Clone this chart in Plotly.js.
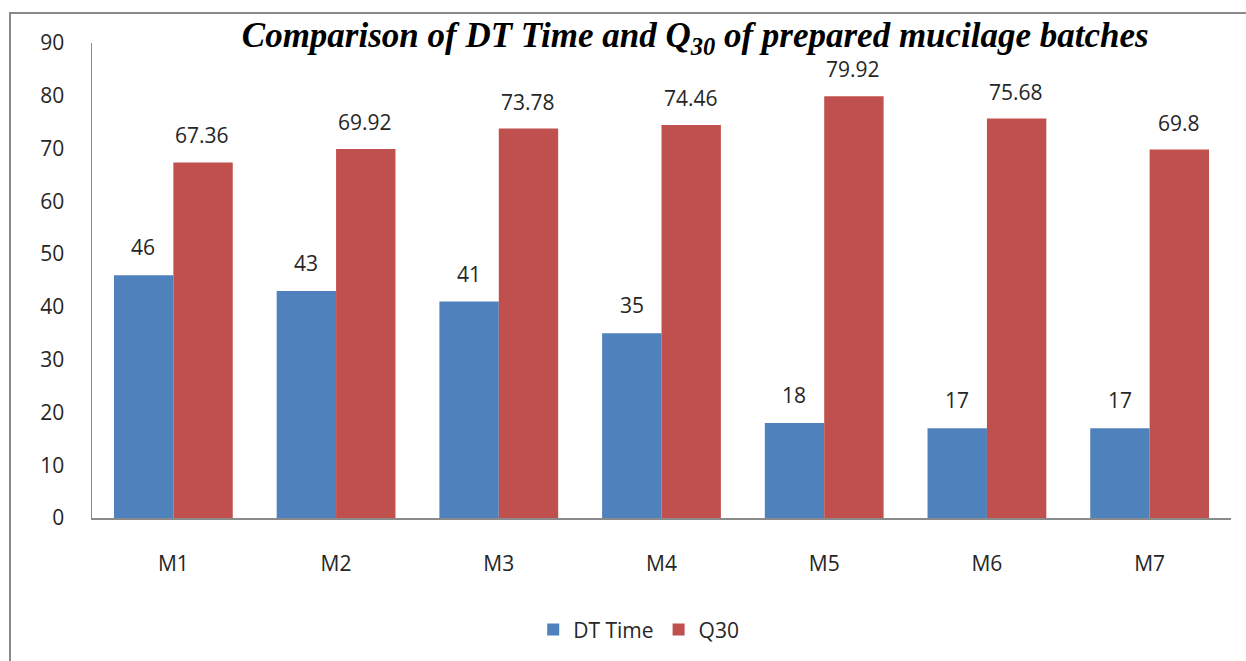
<!DOCTYPE html>
<html>
<head>
<meta charset="utf-8">
<script src="https://cdn.plot.ly/plotly-3.0.1.min.js"></script>
<style>
  html, body { margin: 0; padding: 0; background: #fff; }
  #wrap { position: relative; width: 1246px; height: 661px; overflow: hidden; }
  #chart { width: 1246px; height: 661px; }
  #frame { position: absolute; left: 9px; top: 12px; width: 1300px; height: 700px;
           border-left: 2px solid #8a8a8a; border-top: 2px solid #8a8a8a; pointer-events: none; }
</style>
</head>
<body>
<div id="wrap">
  <div id="chart"></div>
  <div id="frame"></div>
</div>
<script>
const categories = ["M1", "M2", "M3", "M4", "M5", "M6", "M7"];
const dtTime = [46, 43, 41, 35, 18, 17, 17];
const q30 = [67.36, 69.92, 73.78, 74.46, 79.92, 75.68, 69.8];
const seriesNames = ["DT Time", "Q30"];
const yTicks = [0, 10, 20, 30, 40, 50, 60, 70, 80, 90];

const textFont = { family: "Open Sans, Liberation Sans, sans-serif", size: 21, color: "#262626" };

const traces = [
  { type: "bar", name: seriesNames[0], x: categories, y: dtTime,
    marker: { color: "#4F81BD" }, hoverinfo: "x+y" },
  { type: "bar", name: seriesNames[1], x: categories, y: q30,
    marker: { color: "#C0504D" }, hoverinfo: "x+y" }
];

const annotations = [];
categories.forEach((c, i) => {
  annotations.push({ x: c, y: dtTime[i], xref: "x", yref: "y", text: String(dtTime[i]),
    showarrow: false, xshift: -30, yshift: 12, yanchor: "bottom", font: textFont });
  annotations.push({ x: c, y: q30[i], xref: "x", yref: "y", text: String(q30[i]),
    showarrow: false, xshift: 29, yshift: 11, yanchor: "bottom", font: textFont });
});

const layout = {
  width: 1246, height: 661,
  margin: { l: 92, r: 15, t: 43, b: 142 },
  paper_bgcolor: "rgba(0,0,0,0)", plot_bgcolor: "rgba(0,0,0,0)",
  barmode: "group", bargap: 0.27, bargroupgap: 0,
  title: {
    text: "<b><i>Comparison of DT Time and Q<sub>30</sub> of prepared mucilage batches</i></b>",
    font: { family: "Liberation Serif, Times New Roman, serif", size: 35, color: "#000" },
    x: 0.558, xanchor: "center", xref: "container",
    y: 1 - 35 / 661, yanchor: "middle", yref: "container"
  },
  xaxis: {
    type: "category", showline: true, linecolor: "#8a8a8a", linewidth: 1.5,
    showgrid: false, zeroline: false, ticks: "", tickfont: textFont,
    ticklabelstandoff: 26
  },
  yaxis: {
    range: [0, 90], tickvals: yTicks, ticktext: yTicks.map(String),
    showline: true, linecolor: "#8a8a8a", linewidth: 1.5,
    showgrid: false, zeroline: false, ticks: "", tickfont: textFont,
    ticklabelstandoff: 22
  },
  showlegend: true,
  legend: { orientation: "h", x: 0.48, xanchor: "center", y: -0.233, yanchor: "middle",
    font: textFont, itemwidth: 30, traceorder: "normal" },
  annotations: annotations
};

Plotly.newPlot("chart", traces, layout, { displayModeBar: false, staticPlot: true });
</script>
</body>
</html>
